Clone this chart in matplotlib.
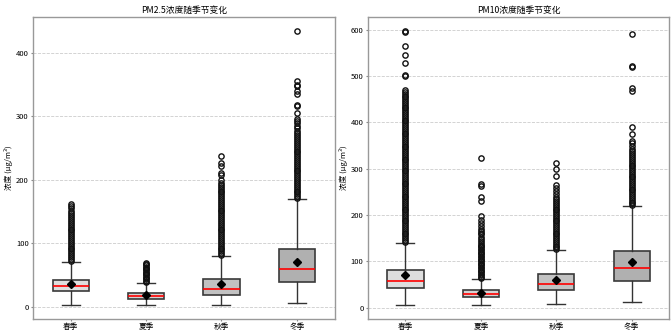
import matplotlib.pyplot as plt

plt.rcParams['font.family'] = ['Noto Sans CJK SC', 'DejaVu Sans']

seasons = ['春季', '夏季', '秋季', '冬季']
box_colors = ['#dedede', '#d3d3d3', '#c2c2c2', '#b0b0b0']

# PM2.5 box statistics per season: whisker low, Q1, median, Q3, whisker high, mean
pm25_low = [3, 2, 2, 5]
pm25_q1 = [24, 12, 19, 39]
pm25_med = [32, 17, 28, 59]
pm25_q3 = [42, 22, 43, 91]
pm25_high = [70, 37, 79, 169]
pm25_mean = [35, 18, 35, 71]

# PM2.5 outliers
pm25_fliers = [
    [72, 75, 78, 81, 84, 87, 90, 93, 96, 99, 102, 105, 108, 111, 114, 117,
     120, 123, 126, 129, 132, 135, 138, 141, 144, 147, 151, 155, 158, 162],
    [39, 41, 43, 45, 47, 49, 51, 53, 55, 57, 59, 61, 63, 65, 67, 68],
    [81, 84, 87, 90, 93, 96, 99, 102, 105, 108, 111, 114, 117, 120, 123,
     126, 129, 132, 135, 138, 141, 144, 147, 150, 153, 156, 159, 162, 165,
     168, 171, 174, 177, 180, 183, 186, 189, 192, 195, 200, 208, 210, 222,
     226, 238],
    [171, 174, 177, 180, 183, 186, 189, 192, 195, 198, 201, 204, 207, 210,
     213, 216, 219, 222, 225, 228, 231, 234, 237, 240, 243, 246, 249, 252,
     255, 258, 261, 264, 267, 270, 273, 277, 281, 285, 289, 293, 296, 305,
     316, 318, 335, 340, 348, 350, 356, 435],
]

# PM10 box statistics per season
pm10_low = [5, 5, 7, 12]
pm10_q1 = [43, 22, 37, 58]
pm10_med = [57, 29, 51, 85]
pm10_q3 = [82, 38, 72, 122]
pm10_high = [140, 62, 124, 219]
pm10_mean = [70, 31, 59, 98]

pm10_fliers = [
    [142, 146, 150, 154, 158, 162, 166, 170, 174, 178, 182, 186, 190, 194,
     198, 202, 206, 210, 214, 218, 222, 226, 230, 234, 238, 242, 246, 250,
     254, 258, 262, 266, 270, 274, 278, 282, 286, 290, 294, 298, 302, 306,
     310, 314, 318, 322, 326, 330, 334, 338, 342, 346, 350, 354, 358, 362,
     366, 370, 374, 378, 382, 386, 390, 394, 398, 402, 406, 410, 414, 418,
     422, 426, 430, 434, 438, 442, 446, 450, 454, 458, 462, 466, 470, 500,
     503, 528, 545, 566, 596, 598],
    [64, 67, 70, 73, 76, 79, 82, 85, 88, 91, 94, 97, 100, 103, 106, 109,
     112, 115, 118, 121, 124, 127, 130, 133, 136, 139, 144, 149, 153, 158,
     162, 166, 170, 176, 182, 190, 198, 230, 238, 262, 267, 323],
    [126, 130, 134, 138, 142, 146, 150, 154, 158, 162, 166, 170, 174, 178,
     182, 186, 190, 194, 198, 202, 206, 210, 214, 218, 222, 226, 230, 234,
     238, 245, 252, 258, 265, 285, 300, 312],
    [221, 225, 229, 233, 237, 241, 245, 249, 253, 257, 261, 265, 269, 273,
     277, 281, 285, 289, 293, 297, 301, 305, 309, 313, 317, 321, 325, 329,
     333, 338, 343, 349, 355, 360, 375, 390, 467, 475, 520, 522, 590],
]


def make_stats(low, q1, med, q3, high, mean, fliers):
    stats = []
    for i in range(len(seasons)):
        stats.append({
            'whislo': low[i], 'q1': q1[i], 'med': med[i], 'q3': q3[i],
            'whishi': high[i], 'mean': mean[i], 'fliers': fliers[i],
            'label': seasons[i],
        })
    return stats


fig, axes = plt.subplots(1, 2, figsize=(6.72, 3.33), dpi=100)
fig.subplots_adjust(left=0.049, right=0.996, top=0.949, bottom=0.042, wspace=0.11)

panels = [
    (axes[0], make_stats(pm25_low, pm25_q1, pm25_med, pm25_q3, pm25_high,
                         pm25_mean, pm25_fliers), 'PM2.5浓度随季节变化'),
    (axes[1], make_stats(pm10_low, pm10_q1, pm10_med, pm10_q3, pm10_high,
                         pm10_mean, pm10_fliers), 'PM10浓度随季节变化'),
]

for ax, stats, title in panels:
    bp = ax.bxp(stats, widths=0.48, patch_artist=True, showmeans=True,
                boxprops=dict(edgecolor='#3a3a3a', linewidth=1.2),
                medianprops=dict(color='red', linewidth=1.2),
                whiskerprops=dict(color='#333333', linewidth=1.0),
                capprops=dict(color='#333333', linewidth=1.0),
                meanprops=dict(marker='D', markerfacecolor='black',
                               markeredgecolor='black', markersize=4),
                flierprops=dict(marker='o', markerfacecolor='none',
                                markeredgecolor='#111111', markersize=3.8,
                                markeredgewidth=1.0))
    for patch, c in zip(bp['boxes'], box_colors):
        patch.set_facecolor(c)

    ax.set_title(title, fontsize=6.3, pad=3)
    ax.set_ylabel('浓度 (μg/m³)', fontsize=5.5, labelpad=2)
    ax.tick_params(axis='both', labelsize=5.5, length=1.5, pad=1.5, color='#888888')
    ax.grid(axis='y', linestyle='--', linewidth=0.6, color='#cccccc')
    ax.set_axisbelow(True)
    for sp in ax.spines.values():
        sp.set_color('#999999')
        sp.set_linewidth(1.0)

fig.savefig('out.png', dpi=100)
